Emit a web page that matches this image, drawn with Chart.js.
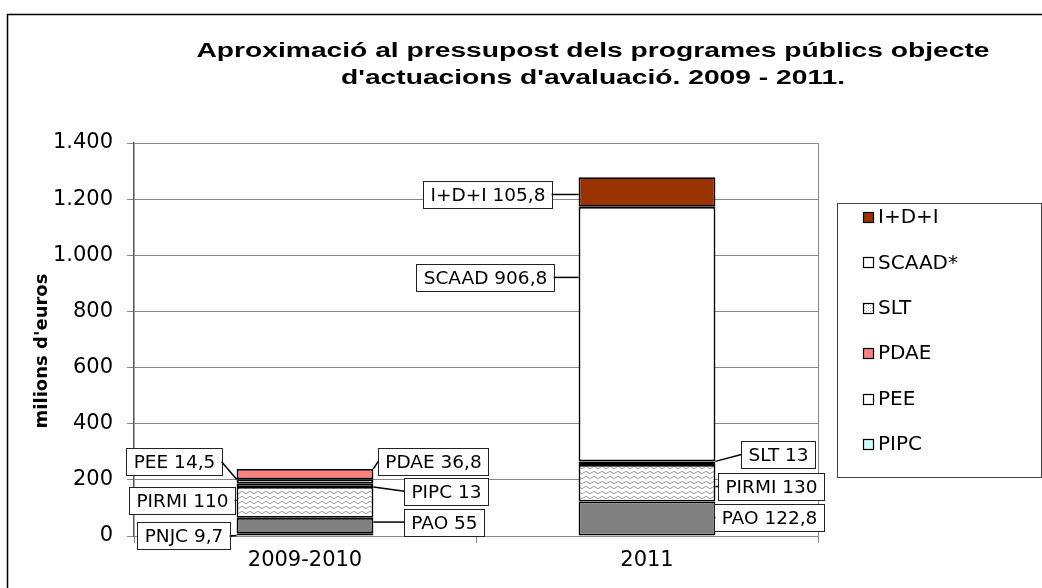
<!DOCTYPE html>
<html>
<head>
<meta charset="utf-8">
<script src="https://cdn.jsdelivr.net/npm/chart.js@4"></script>
<style>
html,body{margin:0;padding:0;background:#fff;}
canvas{display:block;}
</style>
</head>
<body>
<canvas id="c" width="1042" height="588"></canvas>
<script>
// ---------------- DATA ----------------
const categories = ['2009-2010', '2011'];
const seriesNames = ['PNJC', 'PAO', 'PIRMI', 'PIPC', 'PEE', 'PDAE', 'SLT', 'SCAAD*', 'I+D+I'];
const calloutNames = ['PNJC', 'PAO', 'PIRMI', 'PIPC', 'PEE', 'PDAE', 'SLT', 'SCAAD', 'I+D+I'];
const pnjc  = [9.7, null];
const pao   = [55, 122.8];
const pirmi = [110, 130];
const pipc  = [13, null];
const pee   = [14.5, null];
const pdae  = [36.8, null];
const slt   = [null, 13];
const scaad = [null, 906.8];
const idi   = [null, 105.8];
const yTicks = [0, 200, 400, 600, 800, 1000, 1200, 1400];
const titleLines = ["Aproximació al pressupost dels programes públics objecte", "d'actuacions d'avaluació. 2009 - 2011."];
const yTitle = "milions d'euros";

// ---------------- STYLE ----------------
function makePattern(w, h, draw) {
  const c = document.createElement('canvas');
  c.width = w; c.height = h;
  const g = c.getContext('2d');
  g.fillStyle = '#fff'; g.fillRect(0, 0, w, h);
  draw(g);
  return g.createPattern(c, 'repeat');
}
const wavy = makePattern(8, 5, g => {
  g.strokeStyle = '#9a9a9a'; g.lineWidth = 1;
  g.beginPath();
  g.moveTo(0, 2.5);
  g.quadraticCurveTo(2, 0.2, 4, 2.5);
  g.quadraticCurveTo(6, 4.8, 8, 2.5);
  g.stroke();
});
const dots = makePattern(4, 3, g => {
  g.fillStyle = '#aaa'; g.fillRect(0, 1, 1, 1); g.fillRect(2, 2, 1, 1);
});
const colors = ['#000000', '#808080', wavy, '#CCFFFF', '#FFFFFF', '#FF8080', dots, '#FFFFFF', '#993300'];
const seriesData = [pnjc, pao, pirmi, pipc, pee, pdae, slt, scaad, idi];

// callout placement (side of bar, gap from bar edge, vertical offset from segment centre)
const calloutLayout = [
  [{side:'L', gap:7,  dy:1.5},  null],
  [{side:'R', gap:31, dy:-3.5}, {side:'R', gap:-1, dy:-1}],
  [{side:'L', gap:2,  dy:-2},   {side:'R', gap:3, dy:3.3}],
  [{side:'R', gap:31, dy:6},    null],
  [{side:'L', gap:15, dy:-19.5},null],
  [{side:'R', gap:5,  dy:-13},  null],
  [null, {side:'R', gap:26, dy:-8.7}],
  [null, {side:'L', gap:25, dy:-56.7}],
  [null, {side:'L', gap:27, dy:2.5}]
];

const FONT = 'DejaVu Sans';
function fmtComma(v) { return String(v).replace('.', ','); }
function fmtThousands(v) { return String(v).replace(/\B(?=(\d{3})+(?!\d))/g, '.'); }

const decorPlugin = {
  id: 'decor',
  beforeDraw(chart) {
    const ctx = chart.ctx;
    ctx.save();
    ctx.fillStyle = '#fff';
    ctx.fillRect(0, 0, chart.width, chart.height);
    ctx.restore();
  },
  afterDraw(chart) {
    const ctx = chart.ctx;
    const a = chart.chartArea;
    ctx.save();
    // outer frame
    ctx.strokeStyle = '#000'; ctx.lineWidth = 1.5;
    ctx.beginPath();
    ctx.moveTo(7.5, chart.height); ctx.lineTo(7.5, 14.5); ctx.lineTo(chart.width, 14.5);
    ctx.stroke();
    // plot border right
    ctx.strokeStyle = '#888'; ctx.lineWidth = 1;
    ctx.beginPath();
    ctx.moveTo(Math.round(a.right) + 0.5, a.top); ctx.lineTo(Math.round(a.right) + 0.5, a.bottom);
    ctx.stroke();

    // title (Arial-like, horizontally widened like the reference)
    ctx.fillStyle = '#000';
    ctx.textAlign = 'center'; ctx.textBaseline = 'alphabetic';
    ctx.font = 'bold 20px "Liberation Sans"';
    const w1 = ctx.measureText(titleLines[0]).width;
    const sx = 793 / w1;
    ctx.save();
    ctx.translate(593, 0);
    ctx.scale(sx, 1);
    ctx.fillText(titleLines[0], 0, 57);
    ctx.fillText(titleLines[1], 0, 84);
    ctx.restore();

    // y title
    ctx.save();
    ctx.translate(42, 351);
    ctx.rotate(-Math.PI / 2);
    ctx.font = 'bold 18px "' + FONT + '"';
    ctx.textBaseline = 'middle';
    ctx.fillText(yTitle, 0, 0);
    ctx.restore();

    // callouts
    ctx.font = '18.5px "' + FONT + '"';
    chart.data.datasets.forEach((ds, di) => {
      const meta = chart.getDatasetMeta(di);
      meta.data.forEach((bar, ci) => {
        const lay = calloutLayout[di][ci];
        const v = ds.data[ci];
        if (!lay || v == null) return;
        const p = bar.getProps(['x', 'y', 'base', 'width'], true);
        const segTop = Math.min(p.y, p.base), segBot = Math.max(p.y, p.base);
        const segMid = (segTop + segBot) / 2;
        const text = calloutNames[di] + ' ' + fmtComma(v);
        const tw = ctx.measureText(text).width;
        const bw = Math.round(tw + 14), bh = 27;
        const cy = segMid + lay.dy;
        const barL = p.x - p.width / 2, barR = p.x + p.width / 2;
        let bx, edgeX, ax;
        if (lay.side === 'L') { bx = barL - lay.gap - bw; edgeX = bx + bw; ax = barL; }
        else { bx = barR + lay.gap; edgeX = bx; ax = barR; }
        bx = Math.round(bx) + 0.5;
        const by = Math.round(cy - bh / 2) + 0.5;
        ctx.fillStyle = '#fff';
        ctx.fillRect(bx, by, bw, bh);
        ctx.strokeStyle = '#222'; ctx.lineWidth = 1;
        ctx.strokeRect(bx, by, bw, bh);
        ctx.fillStyle = '#000';
        ctx.textAlign = 'center'; ctx.textBaseline = 'middle';
        ctx.fillText(text, bx + bw / 2, by + bh / 2 + 1);
        // leader line
        const ay = Math.min(Math.max(cy, segTop), segBot);
        ctx.strokeStyle = '#000'; ctx.lineWidth = 1.5;
        ctx.beginPath();
        ctx.moveTo(ax, ay); ctx.lineTo(edgeX, cy);
        ctx.stroke();
      });
    });

    // legend (clipped box, reversed order)
    const lx = 837.5, ly = 203.5, lw = 204, lh = 274;
    ctx.fillStyle = '#fff';
    ctx.fillRect(lx, ly, lw, lh);
    ctx.save();
    ctx.beginPath(); ctx.rect(lx, ly, lw, lh); ctx.clip();
    ctx.font = '20px "' + FONT + '"';
    ctx.textAlign = 'left'; ctx.textBaseline = 'middle';
    const n = chart.data.datasets.length;
    for (let i = 0; i < n; i++) {
      const ds = chart.data.datasets[n - 1 - i];
      const ry = 217 + i * 45.4;
      ctx.fillStyle = ds.backgroundColor;
      ctx.fillRect(863.5, Math.round(ry - 5) + 0.5, 10, 10);
      ctx.strokeStyle = '#000'; ctx.lineWidth = 1.2;
      ctx.strokeRect(863.5, Math.round(ry - 5) + 0.5, 10, 10);
      ctx.fillStyle = '#000';
      ctx.fillText(ds.label, 878, ry + 1);
    }
    ctx.restore();
    ctx.strokeStyle = '#444'; ctx.lineWidth = 1;
    ctx.strokeRect(lx, ly, lw, lh);
    ctx.restore();
  }
};

new Chart(document.getElementById('c'), {
  type: 'bar',
  data: {
    labels: categories,
    datasets: seriesNames.map((name, i) => ({
      label: name,
      data: seriesData[i],
      backgroundColor: colors[i],
      borderColor: '#000',
      borderWidth: 1.8,
      borderSkipped: false,
      barPercentage: 0.4,
      categoryPercentage: 1.0
    }))
  },
  options: {
    responsive: false,
    animation: false,
    layout: { padding: { top: 143, right: 224, left: 0, bottom: 0 } },
    plugins: {
      legend: { display: false },
      title: { display: false },
      tooltip: { enabled: false }
    },
    scales: {
      x: {
        stacked: true,
        afterFit(s) { s.height = 52; },
        grid: { display: true, drawOnChartArea: false, drawTicks: true, tickLength: 7, color: '#888', offset: true },
        border: { color: '#888', width: 1 },
        ticks: { color: '#000', font: { family: FONT, size: 21 }, padding: 5 }
      },
      y: {
        stacked: true,
        min: 0, max: 1400,
        afterFit(s) { s.width = 134; },
        afterBuildTicks(s) { s.ticks = yTicks.map(v => ({ value: v })); },
        grid: { color: '#888', lineWidth: 1, tickLength: 7, drawTicks: true },
        border: { color: '#555', width: 1.5 },
        ticks: {
          color: '#000', font: { family: FONT, size: 21 }, padding: 14,
          callback: v => fmtThousands(v)
        }
      }
    }
  },
  plugins: [decorPlugin]
});
</script>
</body>
</html>
